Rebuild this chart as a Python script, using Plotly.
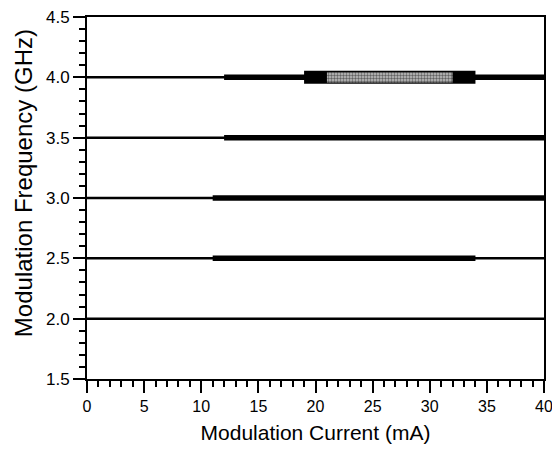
import plotly.graph_objects as go

# Data
frequencies = [2.0, 2.5, 3.0, 3.5, 4.0]          # GHz, horizontal levels
x_min, x_max = 0, 40                               # mA span of thin lines
thick_start = [None, 11, 11, 12, 12]               # mA, start of heavy segment
thick_end = [None, 34, 40, 40, 40]                 # mA, end of heavy segment
box_freq = 4.0
box_outer = [19, 34]                               # mA, black box range
box_inner = [21, 32]                               # mA, stippled region

x_ticks = [0, 5, 10, 15, 20, 25, 30, 35, 40]
y_ticks = [1.5, 2.0, 2.5, 3.0, 3.5, 4.0, 4.5]

fig = go.Figure()

for f in frequencies:
    fig.add_trace(go.Scatter(x=[x_min, x_max], y=[f, f], mode="lines",
                             line=dict(color="black", width=2.5), showlegend=False,
                             hoverinfo="skip"))

for f, s, e in zip(frequencies, thick_start, thick_end):
    if s is None:
        continue
    fig.add_trace(go.Scatter(x=[s, e], y=[f, f], mode="lines",
                             line=dict(color="black", width=5.5), showlegend=False,
                             hoverinfo="skip"))


def rect(x0, x1, yc, half):
    return [x0, x1, x1, x0, x0], [yc - half, yc - half, yc + half, yc + half, yc - half]


ox, oy = rect(box_outer[0], box_outer[1], box_freq, 0.054)
fig.add_trace(go.Scatter(x=ox, y=oy, mode="lines", fill="toself", fillcolor="black",
                         line=dict(width=0, color="black"), showlegend=False, hoverinfo="skip"))
ix, iy = rect(box_inner[0], box_inner[1], box_freq, 0.043)
fig.add_trace(go.Scatter(x=ix, y=iy, mode="lines", fill="toself", fillcolor="#c4c4c4",
                         fillpattern=dict(shape=".", fgcolor="#000000", bgcolor="#c4c4c4",
                                          size=3, solidity=0.5),
                         line=dict(width=0, color="#c4c4c4"), showlegend=False, hoverinfo="skip"))

font_family = "Liberation Sans, Arial, sans-serif"

fig.update_layout(
    width=552, height=449,
    margin=dict(l=87, r=8, t=17, b=70),
    paper_bgcolor="white", plot_bgcolor="white",
    font=dict(family=font_family, color="black"),
    annotations=[dict(
        text="Modulation Frequency (GHz)", textangle=-90,
        xref="paper", yref="paper", x=0, y=0.541, xshift=-64,
        xanchor="center", yanchor="middle", showarrow=False,
        font=dict(size=24, family=font_family, color="black"),
    )],
)

fig.update_xaxes(
    range=[x_min, x_max], tickvals=x_ticks, ticktext=[str(v) for v in x_ticks],
    showgrid=False, zeroline=False, automargin=False, ticklabeloverflow="allow",
    showline=True, linecolor="black", linewidth=2, mirror=True,
    ticks="outside", ticklen=12, tickwidth=2, tickcolor="black",
    minor=dict(dtick=1, ticks="outside", ticklen=6, tickwidth=2, tickcolor="black", showgrid=False),
    tickfont=dict(size=16, family=font_family),
    title=dict(text="Modulation Current (mA)", font=dict(size=21, family=font_family), standoff=11),
)
fig.update_yaxes(
    range=[1.5, 4.5], tickvals=y_ticks, ticktext=[f"{v:.1f}" for v in y_ticks],
    showgrid=False, zeroline=False, automargin=False, ticklabeloverflow="allow",
    showline=True, linecolor="black", linewidth=2, mirror=True,
    ticks="outside", ticklen=12, tickwidth=2, tickcolor="black",
    minor=dict(dtick=0.1, ticks="outside", ticklen=6, tickwidth=2, tickcolor="black", showgrid=False),
    tickfont=dict(size=17, family=font_family),
)

fig.write_html("out.html", config={"displayModeBar": False},
               post_script="document.body.style.margin='0px';document.body.style.overflow='hidden';")
